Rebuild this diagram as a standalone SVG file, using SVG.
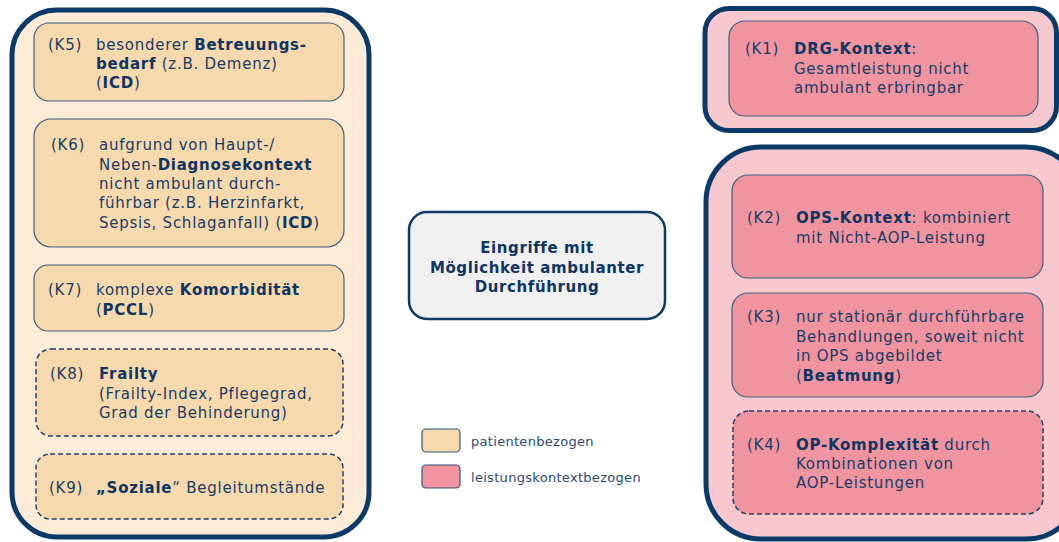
<svg xmlns="http://www.w3.org/2000/svg" width="1059" height="542" viewBox="0 0 1059 542">
<style>
text{font-family:"DejaVu Sans","Verdana",sans-serif;font-size:15px;fill:#183c66;letter-spacing:0.75px}
.b{font-weight:bold;fill:#0f3563}
.outerP{fill:#fcebd7;stroke:#0b3a68;stroke-width:5}
.outerL{fill:#f7c8ce;stroke:#0b3a68;stroke-width:5}
.p{fill:#f7d9ae;stroke:#3e5f82;stroke-width:1.2}
.l{fill:#f0959f;stroke:#3e5f82;stroke-width:1.2}
.d{stroke:#1f416a;stroke-width:1.5;stroke-dasharray:5 3}
.c{fill:#f0f0f0;stroke:#0b3a68;stroke-width:2.5}
.ct{font-weight:bold;fill:#0f3563;text-anchor:middle;letter-spacing:0.6px}
.lg{font-size:13px;fill:#2c4b70;letter-spacing:0.3px}
</style>
<g id="containers">
<rect id="patient-group" class="outerP" x="12" y="10" width="357" height="527" rx="45"/>
<rect id="k1-group" class="outerL" x="705" y="8.5" width="351.5" height="122" rx="24"/>
<rect id="leistung-group" class="outerL" x="706" y="147" width="375" height="392" rx="55"/>
</g>
<g id="connectors"></g>
<g id="K5">
<rect class="p" x="34" y="23" width="310" height="78" rx="15"/>
<text x="48" y="50">(K5)</text>
<text x="96" y="50">besonderer <tspan class="b">Betreuungs-</tspan></text>
<text x="96" y="69"><tspan class="b">bedarf</tspan> (z.B. Demenz)</text>
<text x="96" y="88">(<tspan class="b">ICD</tspan>)</text>
</g>
<g id="K6">
<rect class="p" x="34" y="119" width="310" height="128" rx="17"/>
<text x="51" y="150">(K6)</text>
<text x="99" y="150">aufgrund von Haupt-/</text>
<text x="99" y="170">Neben-<tspan class="b">Diagnosekontext</tspan></text>
<text x="99" y="189">nicht ambulant durch-</text>
<text x="99" y="208">führbar (z.B. Herzinfarkt,</text>
<text x="99" y="228">Sepsis, Schlaganfall) (<tspan class="b">ICD</tspan>)</text>
</g>
<g id="K7">
<rect class="p" x="34" y="265" width="310" height="66" rx="14"/>
<text x="48" y="295">(K7)</text>
<text x="96" y="295">komplexe <tspan class="b">Komorbidität</tspan></text>
<text x="96" y="315">(<tspan class="b">PCCL</tspan>)</text>
</g>
<g id="K8">
<rect class="p d" x="36" y="349" width="307" height="87" rx="15"/>
<text x="50" y="379">(K8)</text>
<text x="99" y="379" class="b">Frailty</text>
<text x="99" y="399">(Frailty-Index, Pflegegrad,</text>
<text x="99" y="418">Grad der Behinderung)</text>
</g>
<g id="K9">
<rect class="p d" x="36" y="454" width="307" height="65" rx="14"/>
<text x="49" y="493">(K9)</text>
<text x="96" y="493"><tspan class="b">„Soziale</tspan>“ Begleitumstände</text>
</g>
<g id="center">
<rect class="c" x="409" y="212" width="256" height="107" rx="18"/>
<text class="ct" x="537" y="253">Eingriffe mit</text>
<text class="ct" x="537" y="273">Möglichkeit ambulanter</text>
<text class="ct" x="537" y="292">Durchführung</text>
</g>
<g id="legend">
<rect class="p" x="422" y="429" width="38" height="23" rx="4" style="stroke:#2e557f"/>
<text class="lg" x="471" y="446">patientenbezogen</text>
<rect class="l" x="422" y="465" width="38" height="23" rx="4" style="stroke:#2e557f"/>
<text class="lg" x="471" y="482">leistungskontextbezogen</text>
</g>
<g id="K1">
<rect class="l" x="729" y="21" width="309" height="95" rx="16"/>
<text x="745" y="54">(K1)</text>
<text x="794" y="54"><tspan class="b">DRG-Kontext</tspan>:</text>
<text x="794" y="74">Gesamtleistung nicht</text>
<text x="794" y="93">ambulant erbringbar</text>
</g>
<g id="K2">
<rect class="l" x="732" y="175" width="311" height="103" rx="16"/>
<text x="747" y="223">(K2)</text>
<text x="796" y="223"><tspan class="b">OPS-Kontext</tspan>: kombiniert</text>
<text x="796" y="243">mit Nicht-AOP-Leistung</text>
</g>
<g id="K3">
<rect class="l" x="732" y="293" width="311" height="104" rx="16"/>
<text x="747" y="322">(K3)</text>
<text x="796" y="322">nur stationär durchführbare</text>
<text x="796" y="342">Behandlungen, soweit nicht</text>
<text x="796" y="361">in OPS abgebildet</text>
<text x="796" y="381">(<tspan class="b">Beatmung</tspan>)</text>
</g>
<g id="K4">
<rect class="l d" x="733" y="411" width="310" height="103" rx="16"/>
<text x="747" y="450">(K4)</text>
<text x="796" y="450"><tspan class="b">OP-Komplexität</tspan> durch</text>
<text x="796" y="469">Kombinationen von</text>
<text x="796" y="488">AOP-Leistungen</text>
</g>
</svg>
